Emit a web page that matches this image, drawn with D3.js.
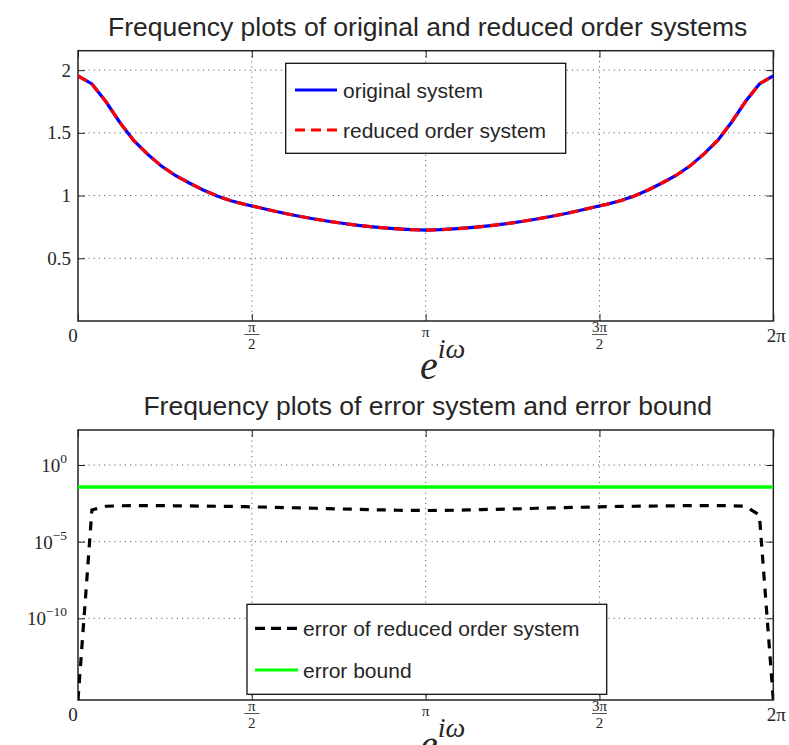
<!DOCTYPE html>
<html>
<head>
<meta charset="utf-8">
<script src="https://cdn.jsdelivr.net/npm/d3@7"></script>
<style>
  body { margin: 0; background: #fff; }
  .grid line { stroke: #666; stroke-width: 1; stroke-dasharray: 1.2,4; }
  .ticks path { display: none; }
  .ticks line { stroke: #222; stroke-width: 1; }
</style>
</head>
<body>
<div id="container"></div>
<script>
/* DATA */
// frequency samples on [0, 2pi]
const omega = d3.range(51).map(k => 2 * Math.PI * k / 50);

const originalMag = [1.955, 1.89, 1.75, 1.585, 1.44, 1.33, 1.235, 1.16, 1.10, 1.045,
  0.997, 0.958, 0.93, 0.905, 0.879, 0.855, 0.833, 0.813, 0.795, 0.779,
  0.765, 0.752, 0.742, 0.734, 0.728, 0.725, 0.728, 0.734, 0.742, 0.752,
  0.765, 0.779, 0.795, 0.813, 0.833, 0.855, 0.879, 0.905, 0.93, 0.958,
  0.997, 1.045, 1.10, 1.16, 1.235, 1.33, 1.44, 1.585, 1.75, 1.89, 1.955];

const reducedMag = [1.955, 1.89, 1.75, 1.585, 1.44, 1.33, 1.235, 1.16, 1.10, 1.045,
  0.997, 0.958, 0.93, 0.905, 0.879, 0.855, 0.833, 0.813, 0.795, 0.779,
  0.765, 0.752, 0.742, 0.734, 0.728, 0.725, 0.728, 0.734, 0.742, 0.752,
  0.765, 0.779, 0.795, 0.813, 0.833, 0.855, 0.879, 0.905, 0.93, 0.958,
  0.997, 1.045, 1.10, 1.16, 1.235, 1.33, 1.44, 1.585, 1.75, 1.89, 1.955];

const errorMag = [4.7e-16, 1.17e-3, 2.04e-3, 2.19e-3, 2.24e-3, 2.24e-3, 2.24e-3, 2.19e-3, 2.14e-3, 2.09e-3,
  2.04e-3, 2.0e-3, 1.91e-3, 1.82e-3, 1.74e-3, 1.66e-3, 1.58e-3, 1.51e-3, 1.41e-3, 1.35e-3,
  1.29e-3, 1.23e-3, 1.17e-3, 1.12e-3, 1.10e-3, 1.07e-3, 1.10e-3, 1.12e-3, 1.17e-3, 1.23e-3,
  1.29e-3, 1.35e-3, 1.41e-3, 1.51e-3, 1.58e-3, 1.66e-3, 1.74e-3, 1.82e-3, 1.91e-3, 2.0e-3,
  2.04e-3, 2.09e-3, 2.14e-3, 2.19e-3, 2.24e-3, 2.24e-3, 2.24e-3, 2.19e-3, 2.04e-3, 5.5e-4, 4.7e-16];

const errorBound = 0.037;

const xTicks = [0, Math.PI / 2, Math.PI, 3 * Math.PI / 2, 2 * Math.PI];
// [numerator, denominator] ; single entries are plain labels
const xTickLabels = [["0"], ["π", "2"], ["π"], ["3π", "2"], ["2π"]];
const yTicksTop = [0.5, 1, 1.5, 2];
const yTickLabelsTop = ["0.5", "1", "1.5", "2"];
const yTicksBottom = [1, 1e-5, 1e-10];
const yTickExpBottom = ["0", "−5", "−10"];

const titles = ["Frequency plots of original and reduced order systems",
  "Frequency plots of error system and error bound"];
const legendTop = ["original system", "reduced order system"];
const legendBottom = ["error of reduced order system", "error bound"];

/* LAYOUT */
const width = 789, height = 745;
const left = 78, right = 773.3;
const panels = [{ top: 50.7, bottom: 321 }, { top: 430, bottom: 700 }];
const tickLen = 7;
const serif = "'Liberation Serif', 'DejaVu Serif', serif";
const sans = "'Liberation Sans', Arial, sans-serif";
const ink = "#262626";

const svg = d3.select("#container")
  .append("svg")
  .attr("width", width)
  .attr("height", height)
  .style("display", "block");

const x = d3.scaleLinear().domain([0, 2 * Math.PI]).range([left, right]);
const yTop = d3.scaleLinear().domain([0, 2.155]).range([panels[0].bottom, panels[0].top]);
const yBot = d3.scaleLog().domain([4.7e-16, 192]).range([panels[1].bottom, panels[1].top]);

function frame(p, y, yTicks, idx) {
  const g = svg.append("g");
  // grid
  const grid = g.append("g").attr("class", "grid");
  grid.selectAll("line.v").data(xTicks.slice(1, -1)).join("line")
    .attr("x1", d => x(d)).attr("x2", d => x(d))
    .attr("y1", p.top).attr("y2", p.bottom);
  grid.selectAll("line.h").data(yTicks).join("line")
    .attr("class", "h")
    .attr("x1", left).attr("x2", right)
    .attr("y1", d => y(d)).attr("y2", d => y(d));

  // inward ticks on all four sides
  g.append("g").attr("class", "ticks")
    .attr("transform", `translate(0,${p.bottom})`)
    .call(d3.axisBottom(x).tickValues(xTicks).tickSize(-tickLen).tickFormat(""));
  g.append("g").attr("class", "ticks")
    .attr("transform", `translate(0,${p.top})`)
    .call(d3.axisTop(x).tickValues(xTicks).tickSize(-tickLen).tickFormat(""));
  g.append("g").attr("class", "ticks")
    .attr("transform", `translate(${left},0)`)
    .call(d3.axisLeft(y).tickValues(yTicks).tickSize(-tickLen).tickFormat(""));
  g.append("g").attr("class", "ticks")
    .attr("transform", `translate(${right},0)`)
    .call(d3.axisRight(y).tickValues(yTicks).tickSize(-tickLen).tickFormat(""));

  // clip
  svg.append("clipPath").attr("id", "clip" + idx)
    .append("rect")
    .attr("x", left).attr("y", p.top)
    .attr("width", right - left).attr("height", p.bottom - p.top);

  // x tick labels
  const B = p.bottom;
  xTicks.forEach((t, i) => {
    const lab = xTickLabels[i];
    const cx = x(t);
    if (lab.length === 2) {
      g.append("text").attr("x", cx).attr("y", B + 11)
        .attr("text-anchor", "middle").style("font-family", serif)
        .style("font-size", "15px").attr("fill", ink).text(lab[0]);
      g.append("line").attr("x1", cx - 7.5).attr("x2", cx + 7.5)
        .attr("y1", B + 13.5).attr("y2", B + 13.5)
        .attr("stroke", ink).attr("stroke-width", 0.8);
      g.append("text").attr("x", cx).attr("y", B + 27.5)
        .attr("text-anchor", "middle").style("font-family", serif)
        .style("font-size", "15px").attr("fill", ink).text(lab[1]);
    } else if (lab[0] === "π") {
      g.append("text").attr("x", cx).attr("y", B + 16)
        .attr("text-anchor", "middle").style("font-family", serif)
        .style("font-size", "15.5px").attr("fill", ink).text(lab[0]);
    } else {
      g.append("text").attr("x", cx + (t > 0 ? 3 : -5)).attr("y", B + 21)
        .attr("text-anchor", "middle").style("font-family", serif)
        .style("font-size", "19px").attr("fill", ink).text(lab[0]);
    }
  });

  // x label e^{i omega}
  const xl = g.append("text").attr("x", 420).attr("y", B + 58)
    .style("font-family", serif).style("font-style", "italic")
    .attr("fill", ink);
  xl.append("tspan").style("font-size", "40px").text("e");
  xl.append("tspan").attr("dy", -21).style("font-size", "28px").text("iω");

  // box
  g.append("rect")
    .attr("x", left).attr("y", p.top)
    .attr("width", right - left).attr("height", p.bottom - p.top)
    .attr("fill", "none").attr("stroke", "#222").attr("stroke-width", 1.5);

  // title
  g.append("text").attr("x", (left + right) / 2 + 2).attr("y", p.top - 15)
    .attr("text-anchor", "middle").style("font-family", sans)
    .style("font-size", "26.5px").attr("fill", ink).text(titles[idx]);
  return g;
}

/* TOP PANEL */
const g1 = frame(panels[0], yTop, yTicksTop, 0);
g1.selectAll("text.ylab").data(yTicksTop).join("text")
  .attr("class", "ylab")
  .attr("x", 71).attr("y", d => yTop(d) + 6.5)
  .attr("text-anchor", "end").style("font-family", serif)
  .style("font-size", "19px").attr("fill", ink)
  .text((d, i) => yTickLabelsTop[i]);

const lineTop = d3.line().x((d, i) => x(omega[i])).y(d => yTop(d));
g1.append("path").datum(originalMag)
  .attr("clip-path", "url(#clip0)")
  .attr("d", lineTop).attr("fill", "none")
  .attr("stroke", "#0000ff").attr("stroke-width", 3.2);
g1.append("path").datum(reducedMag)
  .attr("clip-path", "url(#clip0)")
  .attr("d", lineTop).attr("fill", "none")
  .attr("stroke", "#ff0000").attr("stroke-width", 3.2)
  .attr("stroke-dasharray", "10,6");

// legend top
const lg1 = g1.append("g");
lg1.append("rect").attr("x", 285.7).attr("y", 63.3)
  .attr("width", 280).attr("height", 90)
  .attr("fill", "#fff").attr("stroke", "#111").attr("stroke-width", 1.3);
[{ c: "#0000ff", dash: null, y: 90 }, { c: "#ff0000", dash: "10,6", y: 130 }].forEach((s, i) => {
  lg1.append("line").attr("x1", 295).attr("x2", 337)
    .attr("y1", s.y).attr("y2", s.y)
    .attr("stroke", s.c).attr("stroke-width", 3.2)
    .attr("stroke-dasharray", s.dash);
  lg1.append("text").attr("x", 343).attr("y", s.y + 7.5)
    .style("font-family", sans).style("font-size", "21px")
    .attr("fill", ink).text(legendTop[i]);
});

/* BOTTOM PANEL */
const g2 = frame(panels[1], yBot, yTicksBottom, 1);
yTicksBottom.forEach((t, i) => {
  const tx = g2.append("text")
    .attr("x", 67).attr("y", yBot(t) + 7)
    .attr("text-anchor", "end").style("font-family", serif)
    .attr("fill", ink);
  tx.append("tspan").style("font-size", "19px").text("10");
  tx.append("tspan").attr("dy", -9).style("font-size", "13.5px").text(yTickExpBottom[i]);
});

const lineBot = d3.line().x((d, i) => x(omega[i])).y(d => yBot(d));
g2.append("path").datum([errorBound, errorBound])
  .attr("clip-path", "url(#clip1)")
  .attr("d", d3.line().x((d, i) => x(i === 0 ? omega[0] : omega[omega.length - 1])).y(d => yBot(d)))
  .attr("fill", "none").attr("stroke", "#00ff00").attr("stroke-width", 3.4);
g2.append("path").datum(errorMag)
  .attr("clip-path", "url(#clip1)")
  .attr("d", lineBot).attr("fill", "none")
  .attr("stroke", "#000").attr("stroke-width", 3.2)
  .attr("stroke-dasharray", "9,8");

// legend bottom
const lg2 = g2.append("g");
lg2.append("rect").attr("x", 247).attr("y", 604.3)
  .attr("width", 359.7).attr("height", 90)
  .attr("fill", "#fff").attr("stroke", "#111").attr("stroke-width", 1.3);
[{ c: "#000", dash: "10,6", y: 628.3 }, { c: "#00ff00", dash: null, y: 670 }].forEach((s, i) => {
  lg2.append("line").attr("x1", 255).attr("x2", 298)
    .attr("y1", s.y).attr("y2", s.y)
    .attr("stroke", s.c).attr("stroke-width", 3.2)
    .attr("stroke-dasharray", s.dash);
  lg2.append("text").attr("x", 303).attr("y", s.y + 7.5)
    .style("font-family", sans).style("font-size", "21px")
    .attr("fill", ink).text(legendBottom[i]);
});
</script>
</body>
</html>
